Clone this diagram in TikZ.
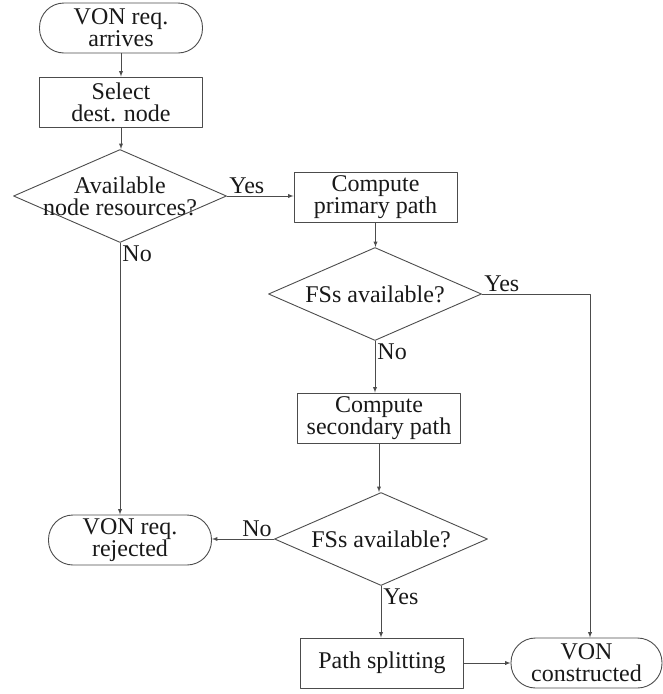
\documentclass[tikz,border=0pt]{standalone}
\usepackage{fontspec}
\setmainfont{Liberation Serif}
\usetikzlibrary{shapes.geometric}

\begin{document}
\begin{tikzpicture}[x=1pt,y=-1pt,line cap=round,line join=round,>=latex,
  every node/.style={font=\fontsize{24}{22}\selectfont,text=black!90},
  terminal/.style={draw=black!70,line width=0.9pt,rounded corners=24.5pt,
    minimum width=163pt,minimum height=50pt,align=center,inner sep=0pt},
  process/.style={draw=black!70,line width=0.9pt,
    minimum width=163pt,minimum height=50pt,align=center,inner sep=0pt},
  decision/.style={draw=black!70,line width=0.9pt,diamond,
    minimum width=213pt,minimum height=93pt,inner sep=0pt},
  flow/.style={draw=black!70,line width=0.9pt,->},
  answer/.style={inner sep=2pt}]
  \useasboundingbox (0,0) rectangle (663,694);
  % left column
  \node[terminal] (arrive) at (121,28) {VON req.\\arrives};
  \node[process] (select) at (121,102) {Select\\dest. node};
  \node[decision,label={[align=center]center:{Available\\node resources?}}] (resrc) at (120,196) {};
  \node[terminal] (reject) at (130,540) {VON req.\\rejected};
  % middle column
  \node[process] (prim) at (375.5,197) {Compute\\primary path};
  \node[decision,label=center:FSs available?] (fsone) at (375,294) {};
  \node[process] (sec) at (379,418) {Compute\\secondary path};
  \node[decision,label=center:FSs available?] (fstwo) at (381,539) {};
  \node[process] (split) at (382,663) {Path splitting};
  % right column
  \node[terminal,minimum width=151pt] (built) at (586.5,663) {VON\\constructed};
  \coordinate (turn) at (590,294);

  \draw[flow] (arrive.south) -- (arrive.south |- select.north);
  \draw[flow] (select.south) -- (select.south |- resrc.north);
  \draw[flow] (resrc.east) -- (resrc.east -| prim.west)
    node[pos=0,anchor=south west,answer] {Yes};
  \draw[flow] (resrc.south) -- (resrc.south |- reject.north)
    node[pos=0,anchor=north west,answer] {No};
  \draw[flow] (prim.south) -- (prim.south |- fsone.north);
  \draw[flow] (fsone.east) node[anchor=south west,answer] {Yes}
    -- (turn) -- (turn |- built.north);
  \draw[flow] (fsone.south) -- (fsone.south |- sec.north)
    node[pos=0,anchor=north west,answer] {No};
  \draw[flow] (sec.south) -- (sec.south |- fstwo.north);
  \draw[flow] (fstwo.west) -- (fstwo.west -| reject.east)
    node[pos=0,anchor=south east,answer] {No};
  \draw[flow] (fstwo.south) -- (fstwo.south |- split.north)
    node[pos=0,anchor=north west,answer] {Yes};
  \draw[flow] (split.east) -- (built.west);
\end{tikzpicture}
\end{document}
